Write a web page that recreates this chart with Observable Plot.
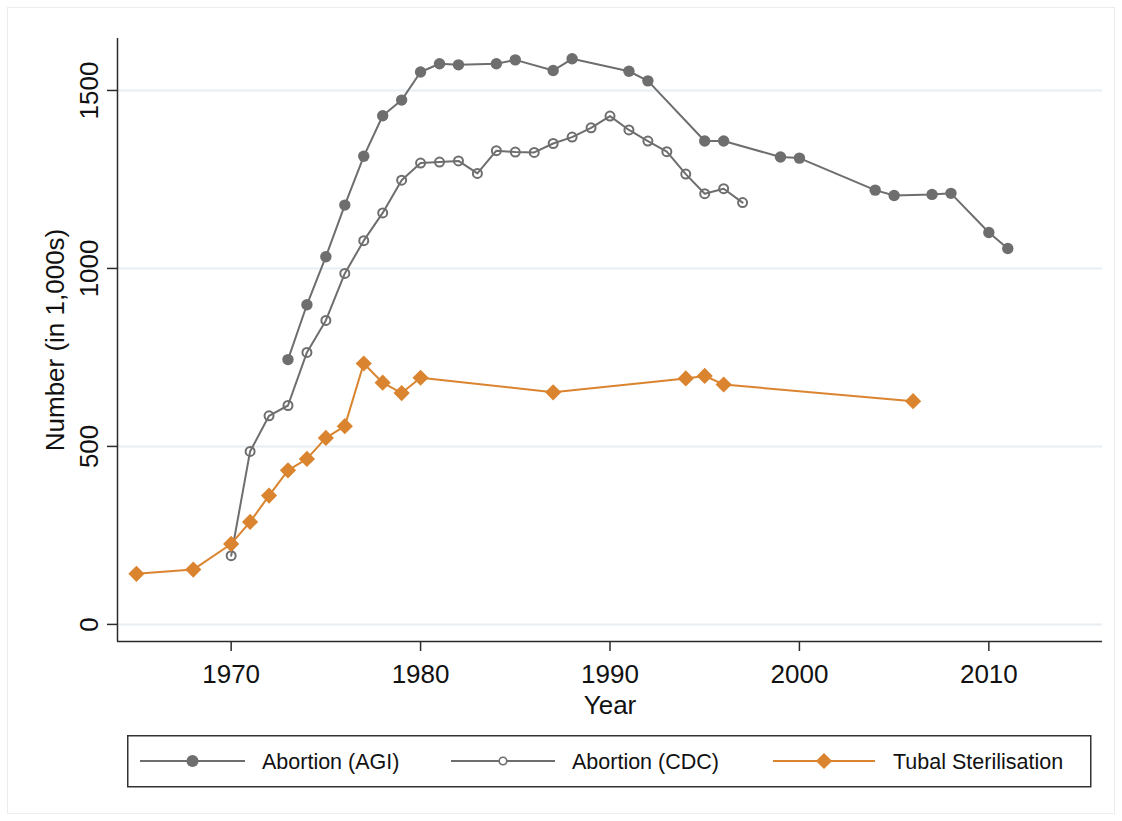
<!DOCTYPE html>
<html><head><meta charset="utf-8">
<script src="https://cdn.jsdelivr.net/npm/d3@7"></script>
<script src="https://cdn.jsdelivr.net/npm/@observablehq/plot@0.6"></script>
<style>
body{margin:0;background:#fff;font-family:"Liberation Sans",Arial,Helvetica,sans-serif;}
#wrap{position:relative;width:1122px;height:821px;overflow:hidden}
#frame{position:absolute;left:7px;top:7px;width:1108px;height:807px;border:1px solid #ececec;box-sizing:border-box}
#chart{position:absolute;left:0;top:0}
#legend{position:absolute;left:127px;top:735px}
</style></head><body>
<div id="wrap"><div id="frame"></div><div id="chart"></div><div id="legend"></div></div>
<script>
// Abortion (AGI)
const agiYears = [1973,1974,1975,1976,1977,1978,1979,1980,1981,1982,1984,1985,1987,1988,1991,1992,1995,1996,1999,2000,2004,2005,2007,2008,2010,2011];
const agiValues = [744,898,1033,1178,1315,1429,1473,1552,1575,1572,1575,1586,1556,1589,1554,1527,1358,1358,1313,1310,1220,1205,1208,1211,1101,1056];
// Abortion (CDC)
const cdcYears = [1970,1971,1972,1973,1974,1975,1976,1977,1978,1979,1980,1981,1982,1983,1984,1985,1986,1987,1988,1989,1990,1991,1992,1993,1994,1995,1996,1997];
const cdcValues = [193,486,586,615,764,854,986,1078,1156,1248,1296,1299,1302,1267,1331,1327,1326,1351,1369,1395,1428,1389,1358,1328,1265,1210,1224,1185];
// Tubal Sterilisation
const tubYears = [1965,1968,1970,1971,1972,1973,1974,1975,1976,1977,1978,1979,1980,1987,1994,1995,1996,2006];
const tubValues = [142,154,226,288,362,433,465,524,557,733,679,650,693,652,691,698,674,627];

const seriesNames = ["Abortion (AGI)","Abortion (CDC)","Tubal Sterilisation"];
const xTicks = [1970,1980,1990,2000,2010];
const yTicks = [0,500,1000,1500];
const xDomain = [1964,2016];
const yDomain = [-48,1646];

const gray = "#6e6e6e", orange = "#da8430", axisColor = "#2b2b2b";
const toRows = (ys, vs) => ys.map((y,i)=>({year:y, value:vs[i]}));
const agi = toRows(agiYears, agiValues);
const cdc = toRows(cdcYears, cdcValues);
const tub = toRows(tubYears, tubValues);

const chart = Plot.plot({
  width: 1122, height: 725,
  marginLeft: 117, marginRight: 20, marginTop: 38, marginBottom: 84,
  style: {fontFamily: "'Liberation Sans', Arial, Helvetica, sans-serif", fontSize: "26px", color: "#111", background: "transparent", overflow: "visible"},
  x: {domain: xDomain},
  y: {domain: yDomain},
  marks: [
    Plot.gridY(yTicks, {stroke: "#e8eef1", strokeOpacity: 1, strokeWidth: 2}),
    Plot.ruleX([xDomain[0]], {stroke: axisColor, strokeWidth: 1.5}),
    Plot.ruleY([yDomain[0]], {stroke: axisColor, strokeWidth: 1.5}),
    Plot.axisX(xTicks, {tickSize: 10, tickPadding: 13, label: null, tickFormat: d => String(d), stroke: axisColor, strokeWidth: 1.5, fontSize: 26}),
    Plot.axisY(yTicks, {tickSize: 10, tickPadding: 10, tickRotate: -90, label: null, tickFormat: d => String(d), stroke: axisColor, strokeWidth: 1.5, fontSize: 26}),
    Plot.text(["Year"], {frameAnchor: "bottom", dy: 72, lineAnchor: "bottom", fontSize: 26}),
    Plot.text(["Number (in 1,000s)"], {frameAnchor: "left", dx: -62, rotate: -90, textAnchor: "middle", fontSize: 26}),
    Plot.line(agi, {x: "year", y: "value", stroke: gray, strokeWidth: 2}),
    Plot.dot(agi, {x: "year", y: "value", r: 5.7, fill: gray, stroke: null}),
    Plot.line(cdc, {x: "year", y: "value", stroke: gray, strokeWidth: 2}),
    Plot.dot(cdc, {x: "year", y: "value", r: 4.5, fill: "none", stroke: gray, strokeWidth: 2}),
    Plot.line(tub, {x: "year", y: "value", stroke: orange, strokeWidth: 2}),
    Plot.dot(tub, {x: "year", y: "value", symbol: "diamond2", r: 7.3, fill: orange, stroke: null})
  ]
});
document.getElementById("chart").appendChild(chart);

// Legend
const lg = d3.select("#legend").append("svg").attr("width", 965).attr("height", 53)
  .style("font-family", "'Liberation Sans', Arial, Helvetica, sans-serif");
lg.append("rect").attr("x", 0.75).attr("y", 0.75).attr("width", 963).attr("height", 51)
  .attr("fill", "#fff").attr("stroke", "#333").attr("stroke-width", 1.5);
const entries = [
  {name: seriesNames[0], color: gray, x0: 13, x1: 118, text: 135, kind: "filled"},
  {name: seriesNames[1], color: gray, x0: 324, x1: 428, text: 445, kind: "hollow"},
  {name: seriesNames[2], color: orange, x0: 646, x1: 748, text: 766, kind: "diamond"}
];
const cy = 26;
for (const e of entries) {
  const g = lg.append("g");
  g.append("line").attr("x1", e.x0).attr("x2", e.x1).attr("y1", cy).attr("y2", cy)
    .attr("stroke", e.color).attr("stroke-width", 2);
  const mx = (e.x0 + e.x1) / 2;
  if (e.kind === "filled") g.append("circle").attr("cx", mx).attr("cy", cy).attr("r", 6).attr("fill", e.color);
  else if (e.kind === "hollow") g.append("circle").attr("cx", mx).attr("cy", cy).attr("r", 3.8).attr("fill", "#fff").attr("stroke", e.color).attr("stroke-width", 1.6);
  else g.append("path").attr("d", d3.symbol(d3.symbolDiamond2, Math.PI * 7.3 * 7.3)()).attr("transform", `translate(${mx},${cy})`).attr("fill", e.color);
  g.append("text").attr("x", e.text).attr("y", cy).attr("dy", "0.35em").attr("font-size", 21.5).attr("fill", "#111").text(e.name);
}
</script>
</body></html>
